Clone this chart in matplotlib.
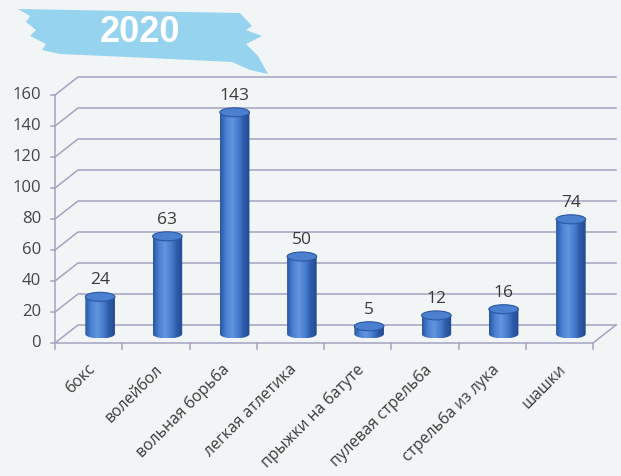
import matplotlib
matplotlib.use("Agg")
import matplotlib.pyplot as plt
import numpy as np
from matplotlib.patches import Polygon, Ellipse
from matplotlib.colors import LinearSegmentedColormap

plt.rcParams['font.family'] = ['Open Sans', 'DejaVu Sans']

categories = ["бокс", "волейбол", "вольная борьба", "легкая атлетика",
              "прыжки на батуте", "пулевая стрельба", "стрельба из лука", "шашки"]
values = [24, 63, 143, 50, 5, 12, 16, 74]
yticks = [0, 20, 40, 60, 80, 100, 120, 140, 160]
title = "2020"

W, H = 621, 476
fig = plt.figure(figsize=(W / 100, H / 100), dpi=100)
fig.patch.set_facecolor('#f2f5f6')

# pixel geometry of the front plane
px_left, px_right = 55, 593
py_zero, py_top = 343, 95
n = len(categories)
pcat = (px_right - px_left) / n          # px per category
pval = (py_zero - py_top) / 160.0        # px per unit

ax = fig.add_axes([0, 0, 1, 1])
ax.set_xlim(-0.5 - px_left / pcat, -0.5 + (W - px_left) / pcat)
ax.set_ylim(-(H - py_zero) / pval, py_zero / pval)
ax.axis('off')
ax.patch.set_alpha(0)

# depth offsets (data units)
dx = 23 / pcat
dy = 18 / pval
x0, x1 = -0.5, n - 0.5
gcol = '#a5a2c2'

# title banner (figure pixel coords)
banner = np.array([[18, 9], [240, 13], [252, 26], [246, 30], [262, 36],
                   [246, 44], [258, 56], [268, 74], [250, 70], [232, 62],
                   [150, 58], [60, 54], [42, 50], [46, 44], [30, 36],
                   [36, 30], [26, 22], [30, 16]], dtype=float)
banner[:, 1] = H - banner[:, 1]
fig.patches.append(Polygon(banner / [W, H], closed=True, transform=fig.transFigure,
                           fc='#86cdee', ec='none', alpha=0.85, zorder=0))
fig.text(140 / W, 1 - 32 / H, title, color='white', fontsize=26, fontweight='bold',
         family=['Liberation Sans', 'DejaVu Sans'], ha='center', va='center')

# grid: left wall + back wall
for v in yticks:
    ax.plot([x0, x0 + dx, x1 + dx], [v, v + dy, v + dy], color=gcol, lw=1.1, zorder=1)
    ax.plot([x0 - 0.06, x0], [v, v], color=gcol, lw=1.1, zorder=1)
    ax.text(x0 - 14 / pcat, v, str(v), ha='right', va='center', fontsize=12, color='#454545')
# front-left vertical
ax.plot([x0, x0], [0, 160], color=gcol, lw=1.1, zorder=1)
# floor
ax.plot([x0, x1, x1 + dx], [0, 0, dy], color=gcol, lw=1.1, zorder=1)
for i in range(n + 1):
    xb = x0 + i
    ax.plot([xb, xb], [0, -4], color=gcol, lw=1.1, zorder=1)

# cylinders
cmap = LinearSegmentedColormap.from_list('cyl', ['#2a56a3', '#4a82d3', '#6295de',
                                                 '#4a7fcf', '#2e5cab', '#23498e'])
grad = cmap(np.linspace(0, 1, 64))[None, :, :3]
w = 0.44
eh = 9 / pval
for i, v in enumerate(values):
    cx = i + dx / 2
    yb = dy / 2
    yt = v + dy / 2
    th = np.linspace(np.pi, 2 * np.pi, 40)
    pts = [(cx - w / 2, yt)] + [(cx + w / 2 * np.cos(t), yb + eh / 2 * np.sin(t)) for t in th] \
          + [(cx + w / 2, yt)]
    clip = Polygon(pts, closed=True, fc='none', ec='none', transform=ax.transData)
    ax.add_patch(clip)
    im = ax.imshow(grad, extent=[cx - w / 2, cx + w / 2, yb - eh / 2, yt],
                   aspect='auto', zorder=3, interpolation='bilinear')
    im.set_clip_path(clip)
    ax.add_patch(Ellipse((cx, yt), w, eh, fc='#4b7fd0', ec='#2b57a2', lw=0.8, zorder=4))
    ax.text(cx, yt + 5.5, str(v), ha='center', va='bottom', fontsize=12.5, color='#3a3a3a', zorder=5)

# category labels
for i, c in enumerate(categories):
    ax.text(i - 0.02, -12, c, rotation=45, rotation_mode='anchor', ha='right', va='top',
            fontsize=11.3, color='#3a3a3a')

fig.savefig('out.png', dpi=100, facecolor=fig.get_facecolor())
